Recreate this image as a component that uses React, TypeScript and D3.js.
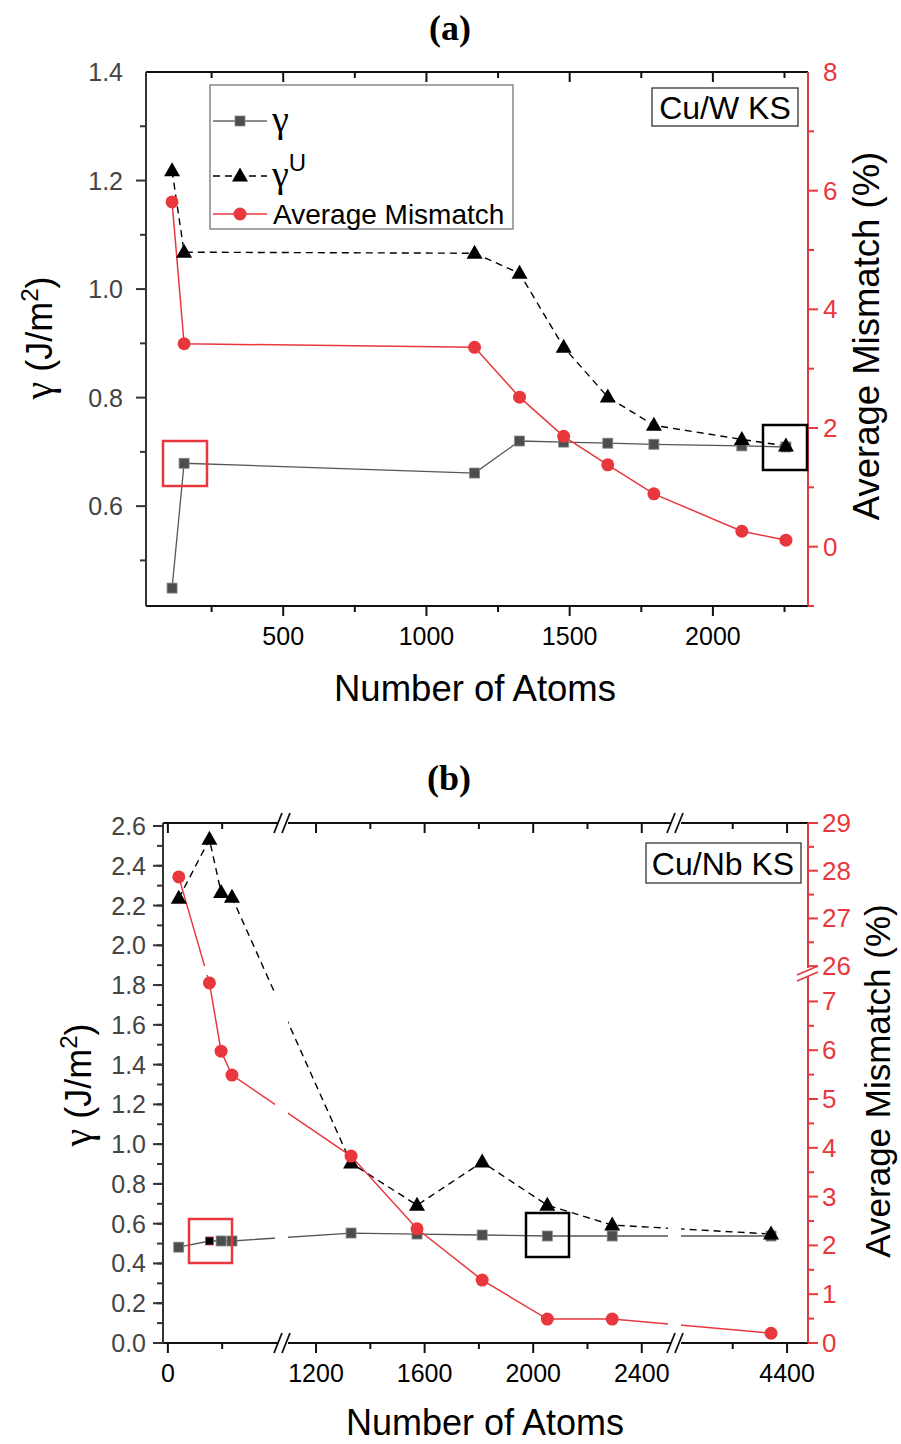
import React from 'react';
import * as d3 from 'd3';

// (a) Cu/W KS
const atomsA = [112, 154, 1168, 1325, 1479, 1633, 1794, 2101, 2255];
const gammaA = [0.449, 0.679, 0.661, 0.72, 0.718, 0.716, 0.714, 0.711, 0.709];
const gammaUA = [1.218, 1.068, 1.066, 1.029, 0.893, 0.801, 0.749, 0.723, 0.711];
const mismatchA = [5.81, 3.42, 3.36, 2.52, 1.86, 1.38, 0.89, 0.26, 0.11];

// (b) Cu/Nb KS
const atomsB = [40, 153, 196, 236, 1329, 1572, 1812, 2052, 2291, 4341];
const gammaB = [0.482, 0.513, 0.513, 0.513, 0.553, 0.548, 0.543, 0.538, 0.538, 0.538];
const gammaUB = [2.236, 2.533, 2.266, 2.241, 0.905, 0.693, 0.91, 0.693, 0.593, 0.548];
const mismatchB = [27.87, 7.38, 5.98, 5.49, 3.83, 2.34, 1.29, 0.49, 0.49, 0.2];

const xTicksA = [500, 1000, 1500, 2000];
const yTicksA = [0.6, 0.8, 1.0, 1.2, 1.4];
const y2TicksA = [0, 2, 4, 6, 8];
const xTicksB = [0, 1200, 1600, 2000, 2400, 4400];
const xMinorB = [200, 1400, 1800, 2200, 4200];
const yTicksB = [0, 0.2, 0.4, 0.6, 0.8, 1.0, 1.2, 1.4, 1.6, 1.8, 2.0, 2.2, 2.4, 2.6];
const y2TicksB = [0, 1, 2, 3, 4, 5, 6, 7, 26, 27, 28, 29];

const RED = '#e8383d';
const FONT = '"Liberation Sans", Arial, sans-serif';
const SERIF = '"Liberation Serif", "DejaVu Serif", serif';
const DASH = '7,5';

const Square = ({ x, y, s = 10, fill = '#4d4d4d', stroke = '#888' }) => (
  <rect x={x - s / 2} y={y - s / 2} width={s} height={s} fill={fill} stroke={stroke} strokeWidth={0.8} />
);
const Tri = ({ x, y }) => (
  <path d={`M${x},${y - 8.5}L${x + 8},${y + 5.5}L${x - 8},${y + 5.5}Z`} fill="#000" />
);
const Dot = ({ x, y }) => <circle cx={x} cy={y} r={6.5} fill={RED} />;

const line = d3.line();

const YTitle = ({ x, y }) => (
  <text transform={`translate(${x},${y}) rotate(-90)`} textAnchor="middle" fontFamily={FONT} fontSize={36}>
    <tspan fontFamily={SERIF} fontSize={40}>γ</tspan> (J/m<tspan dy={-14} fontSize={24}>2</tspan><tspan dy={14}>)</tspan>
  </text>
);
const Y2Title = ({ x, y, size }) => (
  <text transform={`translate(${x},${y}) rotate(-90)`} textAnchor="middle" fontFamily={FONT} fontSize={size}>
    Average Mismatch (%)
  </text>
);

const PanelA = () => {
  const m = { left: 146, right: 808, top: 72, bottom: 606 };
  const x = d3.scaleLinear().domain([21, 2332]).range([m.left, m.right]);
  const y = d3.scaleLinear().domain([0.416, 1.4]).range([m.bottom, m.top]);
  const y2 = d3.scaleLinear().domain([-1, 8]).range([m.bottom, m.top]);
  const pG = atomsA.map((a, i) => [x(a), y(gammaA[i])]);
  const pU = atomsA.map((a, i) => [x(a), y(gammaUA[i])]);
  const pM = atomsA.map((a, i) => [x(a), y2(mismatchA[i])]);
  const minorX = d3.range(250, 2332, 250);
  const minorY = d3.range(5, 14).map(v => v / 10);
  const minorY2 = d3.range(-1, 8, 1);
  return (
    <g>
      <text x={450} y={40} textAnchor="middle" fontFamily={SERIF} fontWeight="bold" fontSize={36}>(a)</text>
      {/* axes */}
      <line x1={m.left} x2={m.right} y1={m.top} y2={m.top} stroke="#111" strokeWidth={2} />
      <line x1={m.left} x2={m.right} y1={m.bottom} y2={m.bottom} stroke="#111" strokeWidth={2} />
      <line x1={m.left} x2={m.left} y1={m.top} y2={m.bottom} stroke="#333" strokeWidth={2} />
      <line x1={m.right} x2={m.right} y1={m.top} y2={m.bottom} stroke={RED} strokeWidth={2} />
      {minorX.map(v => {
        const major = xTicksA.includes(v);
        return (
          <g key={v}>
            <line x1={x(v)} x2={x(v)} y1={m.bottom} y2={m.bottom + (major ? 10 : 6)} stroke="#111" strokeWidth={2} />
            <line x1={x(v)} x2={x(v)} y1={m.top} y2={m.top + (major ? 10 : 6)} stroke="#111" strokeWidth={2} />
          </g>
        );
      })}
      {xTicksA.map(v => (
        <text key={v} x={x(v)} y={645} textAnchor="middle" fontFamily={FONT} fontSize={25}>{v}</text>
      ))}
      {minorY.map(v => (
        <line key={v} x1={m.left} x2={m.left - (Math.round(v * 10) % 2 === 0 ? 10 : 6)} y1={y(v)} y2={y(v)} stroke="#333" strokeWidth={2} />
      ))}
      {yTicksA.map(v => (
        <text key={v} x={123} y={y(v) + 9} textAnchor="end" fontFamily={FONT} fontSize={25} fill="#444">{v.toFixed(1)}</text>
      ))}
      {minorY2.map(v => (
        <line key={v} x1={m.right} x2={m.right + (v % 2 === 0 ? 10 : 6)} y1={y2(v)} y2={y2(v)} stroke={RED} strokeWidth={2} />
      ))}
      {y2TicksA.map(v => (
        <text key={v} x={823} y={y2(v) + 9} fontFamily={FONT} fontSize={26} fill={RED}>{v}</text>
      ))}
      {/* data */}
      <path d={line(pG)} fill="none" stroke="#555" strokeWidth={1.3} />
      <path d={line(pU)} fill="none" stroke="#000" strokeWidth={1.4} strokeDasharray={DASH} />
      <path d={line(pM)} fill="none" stroke={RED} strokeWidth={1.5} />
      {pG.map((p, i) => <Square key={i} x={p[0]} y={p[1]} />)}
      {pU.map((p, i) => <Tri key={i} x={p[0]} y={p[1]} />)}
      {pM.map((p, i) => <Dot key={i} x={p[0]} y={p[1]} />)}
      {/* highlight boxes */}
      <rect x={163} y={441} width={44} height={45} fill="none" stroke={RED} strokeWidth={2.5} />
      <rect x={763} y={425} width={44} height={45} fill="none" stroke="#000" strokeWidth={2.5} />
      {/* legend */}
      <rect x={210} y={85} width={303} height={144} fill="none" stroke="#777" strokeWidth={1.3} />
      <line x1={213} x2={267} y1={121} y2={121} stroke="#666" strokeWidth={1.3} />
      <Square x={240} y={121} />
      <text x={272} y={132} fontFamily={SERIF} fontSize={38}>γ</text>
      <line x1={213} x2={267} y1={176} y2={176} stroke="#000" strokeWidth={1.4} strokeDasharray={DASH} />
      <Tri x={240} y={176} />
      <text x={272} y={187} fontFamily={SERIF} fontSize={38}>γ<tspan dy={-16} fontFamily={FONT} fontSize={24}>U</tspan></text>
      <line x1={213} x2={267} y1={214} y2={214} stroke={RED} strokeWidth={1.5} />
      <Dot x={240} y={214} />
      <text x={273} y={224} fontFamily={FONT} fontSize={28}>Average Mismatch</text>
      <rect x={652} y={88} width={146} height={38} fill="#fff" stroke="#333" strokeWidth={1.3} />
      <text x={725} y={119} textAnchor="middle" fontFamily={FONT} fontSize={32}>Cu/W KS</text>
      {/* titles */}
      <YTitle x={52} y={338} />
      <Y2Title x={879} y={336} size={36.5} />
      <text x={475} y={701} textAnchor="middle" fontFamily={FONT} fontSize={36.5}>Number of Atoms</text>
    </g>
  );
};

const PanelB = () => {
  const m = { left: 163, right: 808, top: 823, bottom: 1343 };
  const xSegs = [
    d3.scaleLinear().domain([-18, 413]).range([163, 280]),
    d3.scaleLinear().domain([1093, 2515]).range([287, 673]),
    d3.scaleLinear().domain([4006, 4477]).range([680, 808]),
  ];
  const x = (v: number) => (xSegs.find(s => v <= s.domain()[1]) || xSegs[2])(v);
  const y = d3.scaleLinear().domain([0, 2.615]).range([m.bottom, m.top]);
  const y2Segs = [
    d3.scaleLinear().domain([0, 7.48]).range([1343, 978]),
    d3.scaleLinear().domain([25.94, 29]).range([969, 823]),
  ];
  const y2 = (v: number) => (v < 20 ? y2Segs[0](v) : y2Segs[1](v));
  const pG = atomsB.map((a, i) => [x(a), y(gammaB[i])]);
  const pU = atomsB.map((a, i) => [x(a), y(gammaUB[i])]);
  const pM = atomsB.map((a, i) => [x(a), y2(mismatchB[i])]);
  const minorY = d3.range(1, 26).map(v => v / 10);
  const minorY2 = [0.5, 1.5, 2.5, 3.5, 4.5, 5.5, 6.5, 26.5, 27.5, 28.5];
  const xBreaks = [283, 676];
  const slash = (cx: number, cy: number) => (
    <g key={`${cx}-${cy}`}>
      <rect x={cx - 5} y={cy - 3} width={10} height={6} fill="#fff" />
      <line x1={cx - 9} x2={cx - 1} y1={cy + 10} y2={cy - 10} stroke="#111" strokeWidth={1.8} />
      <line x1={cx - 1} x2={cx + 7} y1={cy + 10} y2={cy - 10} stroke="#111" strokeWidth={1.8} />
    </g>
  );
  return (
    <g>
      <defs>
        <mask id="gapX" maskUnits="userSpaceOnUse" x={0} y={700} width={901} height={744}>
          <rect x={0} y={700} width={901} height={744} fill="#fff" />
          <rect x={275} y={m.top} width={13} height={m.bottom - m.top} fill="#000" />
          <rect x={668} y={m.top} width={13} height={m.bottom - m.top} fill="#000" />
        </mask>
        <mask id="gapXY" maskUnits="userSpaceOnUse" x={0} y={700} width={901} height={744}>
          <rect x={0} y={700} width={901} height={744} fill="#fff" />
          <rect x={275} y={m.top} width={13} height={m.bottom - m.top} fill="#000" />
          <rect x={668} y={m.top} width={13} height={m.bottom - m.top} fill="#000" />
          <rect x={m.left} y={966} width={m.right - m.left} height={9} fill="#000" />
        </mask>
      </defs>
      <text x={449} y={790} textAnchor="middle" fontFamily={SERIF} fontWeight="bold" fontSize={36}>(b)</text>
      {/* axes */}
      <line x1={m.left} x2={m.right} y1={m.top} y2={m.top} stroke="#111" strokeWidth={2} />
      <line x1={m.left} x2={m.right} y1={m.bottom} y2={m.bottom} stroke="#111" strokeWidth={2} />
      <line x1={m.left} x2={m.left} y1={m.top} y2={m.bottom} stroke="#333" strokeWidth={2} />
      <line x1={m.right} x2={m.right} y1={m.top} y2={m.bottom} stroke={RED} strokeWidth={2} />
      {[...xTicksB, ...xMinorB].map(v => {
        const major = xTicksB.includes(v);
        return (
          <g key={v}>
            <line x1={x(v)} x2={x(v)} y1={m.bottom} y2={m.bottom + (major ? 10 : 6)} stroke="#111" strokeWidth={2} />
            <line x1={x(v)} x2={x(v)} y1={m.top} y2={m.top + (major ? 10 : 6)} stroke="#111" strokeWidth={2} />
          </g>
        );
      })}
      {xTicksB.map(v => (
        <text key={v} x={x(v)} y={1382} textAnchor="middle" fontFamily={FONT} fontSize={25}>{v}</text>
      ))}
      {minorY.map(v => (
        <line key={v} x1={m.left} x2={m.left - 6} y1={y(v)} y2={y(v)} stroke="#333" strokeWidth={2} />
      ))}
      {yTicksB.map(v => (
        <g key={v}>
          <line x1={m.left} x2={m.left - 10} y1={y(v)} y2={y(v)} stroke="#333" strokeWidth={2} />
          <text x={146} y={y(v) + 9} textAnchor="end" fontFamily={FONT} fontSize={25} fill="#444">{v.toFixed(1)}</text>
        </g>
      ))}
      {minorY2.map(v => (
        <line key={v} x1={m.right} x2={m.right + 6} y1={y2(v)} y2={y2(v)} stroke={RED} strokeWidth={2} />
      ))}
      {y2TicksB.map(v => (
        <g key={v}>
          <line x1={m.right} x2={m.right + 10} y1={y2(v)} y2={y2(v)} stroke={RED} strokeWidth={2} />
          <text x={822} y={y2(v) + 9} fontFamily={FONT} fontSize={26} fill={RED}>{v}</text>
        </g>
      ))}
      {xBreaks.map(b => [slash(b, m.top), slash(b, m.bottom)])}
      <g>
        <rect x={m.right - 3} y={968} width={6} height={9} fill="#fff" />
        <line x1={m.right - 11} x2={m.right + 10} y1={975} y2={966} stroke={RED} strokeWidth={1.8} />
        <line x1={m.right - 11} x2={m.right + 10} y1={981} y2={972} stroke={RED} strokeWidth={1.8} />
      </g>
      {/* data */}
      <path d={line(pG)} fill="none" stroke="#555" strokeWidth={1.3} mask="url(#gapX)" />
      <path d={line(pU)} fill="none" stroke="#000" strokeWidth={1.4} strokeDasharray={DASH} mask="url(#gapX)" />
      <path d={line(pM)} fill="none" stroke={RED} strokeWidth={1.5} mask="url(#gapXY)" />
      {pG.map((p, i) => (i === 1
        ? <Square key={i} x={p[0]} y={p[1]} s={8} fill="#000" stroke={RED} />
        : <Square key={i} x={p[0]} y={p[1]} />))}
      {pU.map((p, i) => <Tri key={i} x={p[0]} y={p[1]} />)}
      {pM.map((p, i) => <Dot key={i} x={p[0]} y={p[1]} />)}
      <rect x={189} y={1219} width={43} height={44} fill="none" stroke={RED} strokeWidth={2.5} />
      <rect x={526} y={1213} width={43} height={44} fill="none" stroke="#000" strokeWidth={2.5} />
      <rect x={646} y={843} width={155} height={40} fill="#fff" stroke="#333" strokeWidth={1.3} />
      <text x={723} y={875} textAnchor="middle" fontFamily={FONT} fontSize={32}>Cu/Nb KS</text>
      <YTitle x={91} y={1085} />
      <Y2Title x={890} y={1081} size={35} />
      <text x={485} y={1435} textAnchor="middle" fontFamily={FONT} fontSize={36}>Number of Atoms</text>
    </g>
  );
};

export default function App() {
  return (
    <svg width={901} height={1444} style={{ position: 'absolute', left: 0, top: 0, background: '#fff' }}>
      <rect width={901} height={1444} fill="#fff" />
      <PanelA />
      <PanelB />
    </svg>
  );
}
